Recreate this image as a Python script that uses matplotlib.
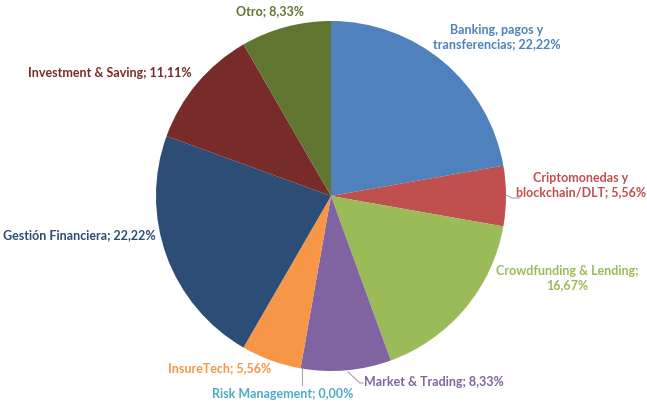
import matplotlib
matplotlib.use("Agg")
import matplotlib.pyplot as plt

categories = ["Banking, pagos y transferencias", "Criptomonedas y blockchain/DLT",
              "Crowdfunding & Lending", "Market & Trading", "Risk Management",
              "InsureTech", "Gestión Financiera", "Investment & Saving", "Otro"]
values = [22.22, 5.56, 16.67, 8.33, 0.00, 5.56, 22.22, 11.11, 8.33]
colors = ["#4F81BD", "#C0504D", "#9BBB59", "#8064A2", "#4BACC6",
          "#F79646", "#2C4D75", "#772C2A", "#5F7530"]

W, H = 647, 403
fig = plt.figure(figsize=(W / 100, H / 100), dpi=100)
ax = fig.add_axes([0, 0, 1, 1])

cx, cy, r = 331, H - 196, 175
ax.pie(values, colors=colors, startangle=90, counterclock=False,
       center=(cx, cy), radius=r, frame=True,
       wedgeprops=dict(linewidth=0))
ax.set_xlim(0, W)
ax.set_ylim(0, H)
ax.set_aspect("equal")
ax.axis("off")

def fmt(v):
    return f"{v:.2f}".replace(".", ",") + "%"

labels = [
    f"Banking, pagos y\ntransferencias; {fmt(values[0])}",
    f"Criptomonedas y\nblockchain/DLT; {fmt(values[1])}",
    f"Crowdfunding & Lending;\n{fmt(values[2])}",
    f"{categories[3]}; {fmt(values[3])}",
    f"{categories[4]}; {fmt(values[4])}",
    f"{categories[5]}; {fmt(values[5])}",
    f"{categories[6]}; {fmt(values[6])}",
    f"{categories[7]}; {fmt(values[7])}",
    f"{categories[8]}; {fmt(values[8])}",
]
pos = [
    (497, 37, "center"),
    (581, 185, "center"),
    (567, 278, "center"),
    (364, 382, "left"),
    (212, 394, "left"),
    (168, 368, "left"),
    (3, 235, "left"),
    (28, 73, "left"),
    (270, 11, "center"),
]
for lab, (x, y, ha), c in zip(labels, pos, colors):
    ax.text(x, H - y, lab, ha=ha, va="center", color=c, fontsize=9.0,
            fontweight="bold", family="Lato", linespacing=1.25)

lc = "#A6A6A6"
ax.plot([506, 512, 520], [H - 195, H - 198, H - 198], color=lc, lw=0.8)
ax.plot([348, 360, 363], [H - 372, H - 383, H - 383], color=lc, lw=0.8)
ax.plot([302, 302], [H - 368, H - 385], color=lc, lw=0.8)

fig.savefig("out.png", dpi=100)
